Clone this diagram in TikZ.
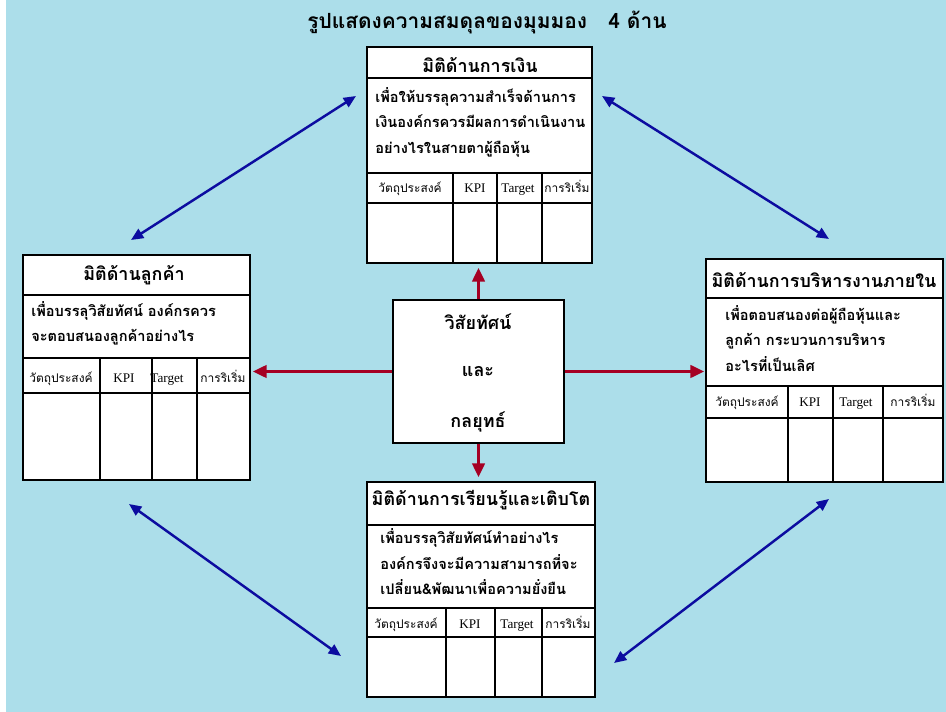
\documentclass[tikz,border=0pt]{standalone}
\usepackage{fontspec}
\setmainfont{Liberation Serif}
\newfontfamily\thaifont[Script=Thai]{Loma}
\usetikzlibrary{arrows.meta, calc}
\definecolor{water}{RGB}{172,222,234}
\definecolor{redarrow}{RGB}{165,0,35}
\definecolor{bluearrow}{RGB}{12,12,160}
\tikzset{
    panel/.style={draw=black, thick, fill=white, inner sep=0pt}, % white boxes
    headtext/.style={font=\thaifont\bfseries\fontsize{10.2}{12}\selectfont},
    bodytext/.style={anchor=north west, align=left, inner sep=0pt,
        font=\thaifont\bfseries\fontsize{8.3}{14.6}\selectfont},
    celltext/.style={anchor=base, font=\thaifont\fontsize{6.8}{8}\selectfont, inner sep=0pt},
    latincell/.style={anchor=base, font=\fontsize{7.5}{9}\selectfont, inner sep=0pt},
    redline/.style={draw=redarrow, line width=2pt, -{Triangle[length=8pt, width=7pt]}},
    blueline/.style={draw=bluearrow, line width=1.4pt, {Triangle[length=7pt, width=6pt]}-{Triangle[length=7pt, width=6pt]}},
}

\begin{document}
\begin{tikzpicture}[x=0.02cm, y=-0.02cm]

    % --- Background ---
    \useasboundingbox (0,0) rectangle (946,712);
    \fill[white] (0,0) rectangle (946,712);
    \fill[water] (6,0) rectangle (946,712);

    % --- Title ---
    \node[font=\thaifont\bfseries\fontsize{11.9}{14}\selectfont] (title) at (487,22)
        {รูปแสดงความสมดุลของมุมมอง~~~4 ด้าน};

    % --- Panels ---
    \node[panel, minimum width=4.5cm, minimum height=4.32cm] (fin) at (479.5,155) {};
    \node[panel, minimum width=4.54cm, minimum height=4.5cm] (cus) at (136.5,367.5) {};
    \node[panel, minimum width=4.74cm, minimum height=4.46cm] (int) at (824.5,370.5) {};
    \node[panel, minimum width=4.56cm, minimum height=4.3cm] (lrn) at (481,589.5) {};
    \node[panel, minimum width=3.42cm, minimum height=2.86cm] (vis) at (478.5,371.5) {};

    % finance
    \draw[thick] (fin.west |- 0,78) -- (fin.east |- 0,78);
    \draw[thick] (fin.west |- 0,173) -- (fin.east |- 0,173);
    \draw[thick] (fin.west |- 0,203) -- (fin.east |- 0,203);
    \foreach \cx in {453,497,542} \draw[thick] (\cx,173) -- (\cx,0 |- fin.south);
    \node[headtext] (fint) at (480,65) {มิติด้านการเงิน};
    \node[bodytext] (finb) at (375,87) {เพื่อให้บรรลุความสำเร็จด้านการ\\เงินองค์กรควรมีผลการดำเนินงาน\\อย่างไรในสายตาผู้ถือหุ้น};
    \node[celltext] (fin1) at (410,193) {วัตถุประสงค์};
    \node[latincell] (fin2) at (475,193) {KPI};
    \node[latincell] (fin3) at (518,193) {Target};
    \node[celltext] (fin4) at (567,193) {การริเริ่ม};

    % customer
    \draw[thick] (cus.west |- 0,295) -- (cus.east |- 0,295);
    \draw[thick] (cus.west |- 0,358) -- (cus.east |- 0,358);
    \draw[thick] (cus.west |- 0,393) -- (cus.east |- 0,393);
    \foreach \cx in {100,152,197} \draw[thick] (\cx,358) -- (\cx,0 |- cus.south);
    \node[headtext] (cust) at (134,275) {มิติด้านลูกค้า};
    \node[bodytext] (cusb) at (31,301) {เพื่อบรรลุวิสัยทัศน์ องค์กรควร\\จะตอบสนองลูกค้าอย่างไร};
    \node[celltext] (cus1) at (61,383) {วัตถุประสงค์};
    \node[latincell] (cus2) at (124,383) {KPI};
    \node[latincell] (cus3) at (167,383) {Target};
    \node[celltext] (cus4) at (223,383) {การริเริ่ม};

    % internal process
    \draw[thick] (int.west |- 0,298) -- (int.east |- 0,298);
    \draw[thick] (int.west |- 0,386) -- (int.east |- 0,386);
    \draw[thick] (int.west |- 0,418) -- (int.east |- 0,418);
    \foreach \cx in {788,833,883} \draw[thick] (\cx,386) -- (\cx,0 |- int.south);
    \node[headtext] (intt) at (824,280) {มิติด้านการบริหารงานภายใน};
    \node[bodytext] (intb) at (725,305) {เพื่อตอบสนองต่อผู้ถือหุ้นและ\\ลูกค้า กระบวนการบริหาร\\อะไรที่เป็นเลิศ};
    \node[celltext] (int1) at (747,407) {วัตถุประสงค์};
    \node[latincell] (int2) at (810,407) {KPI};
    \node[latincell] (int3) at (856,407) {Target};
    \node[celltext] (int4) at (913,407) {การริเริ่ม};

    % learning and growth
    \draw[thick] (lrn.west |- 0,525) -- (lrn.east |- 0,525);
    \draw[thick] (lrn.west |- 0,608) -- (lrn.east |- 0,608);
    \draw[thick] (lrn.west |- 0,637) -- (lrn.east |- 0,637);
    \foreach \cx in {446,495,542} \draw[thick] (\cx,608) -- (\cx,0 |- lrn.south);
    \node[headtext] (lrnt) at (481,500) {มิติด้านการเรียนรู้และเติบโต};
    \node[bodytext] (lrnb) at (380,528) {เพื่อบรรลุวิสัยทัศน์ทำอย่างไร\\องค์กรจึงจะมีความสามารถที่จะ\\เปลี่ยน\&พัฒนาเพื่อความยั่งยืน};
    \node[celltext] (lrn1) at (406,628) {วัตถุประสงค์};
    \node[latincell] (lrn2) at (470,628) {KPI};
    \node[latincell] (lrn3) at (517,628) {Target};
    \node[celltext] (lrn4) at (568,628) {การริเริ่ม};

    % vision and strategy
    \node[headtext] (vis1) at (478,322) {วิสัยทัศน์};
    \node[headtext] (vis2) at (478,372) {และ};
    \node[headtext] (vis3) at (478,422) {กลยุทธ์};

    % --- Red arrows from the centre ---
    \draw[redline] (vis.north) -- ($(vis.north |- fin.south)+(0,4)$);
    \draw[redline] (vis.west) -- ($(vis.west -| cus.east)+(2,0)$);
    \draw[redline] (vis.east) -- ($(vis.east -| int.west)+(-1,0)$);
    \draw[redline] (vis.south) -- ($(vis.south |- lrn.north)+(0,-4)$);

    % --- Blue links between the panels ---
    \coordinate (cf1) at (131,240);
    \coordinate (cf2) at (356,96);
    \coordinate (fi1) at (602,96);
    \coordinate (fi2) at (829,239);
    \coordinate (cl1) at (129,504);
    \coordinate (cl2) at (341,656);
    \coordinate (li1) at (614,663);
    \coordinate (li2) at (829,499);
    \draw[blueline] (cf1) -- (cf2);
    \draw[blueline] (fi1) -- (fi2);
    \draw[blueline] (cl1) -- (cl2);
    \draw[blueline] (li1) -- (li2);

\end{tikzpicture}
\end{document}
